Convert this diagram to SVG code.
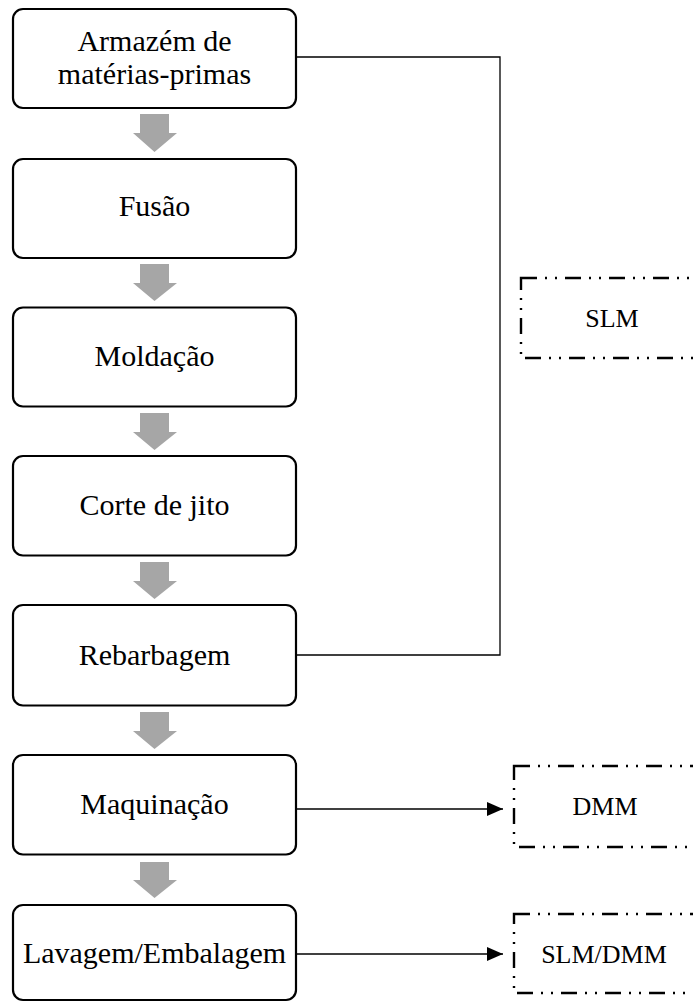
<svg xmlns="http://www.w3.org/2000/svg" width="693" height="1002" viewBox="0 0 693 1002">
<defs>
<style>
.box{fill:#fff;stroke:#000;stroke-width:2.2}
.t{font-family:"Liberation Serif","Times New Roman",serif;font-size:30px;fill:#000;text-anchor:middle}
.ts{font-family:"Liberation Serif","Times New Roman",serif;font-size:26px;fill:#000;text-anchor:middle}
.dbox{fill:none;stroke:#000;stroke-width:2.4;stroke-dasharray:16 8 2 8 2 8}
.blk{fill:#a6a6a6}
.ln{fill:none;stroke:#000;stroke-width:1.3}
</style>
<marker id="ah" markerWidth="16" markerHeight="14" refX="16" refY="7" orient="auto" markerUnits="userSpaceOnUse" viewBox="0 0 16 14">
<path d="M0,0 L16,7 L0,14 Z" fill="#000"/>
</marker>
</defs>
<rect width="693" height="1002" fill="#fff"/>
<g id="connectors">
<path class="blk" d="M140,114 H169 V133 H177 L154.5,152 L133,133 H140 Z"/>
<path class="blk" d="M140,264 H169 V283 H177 L154.5,301 L133,283 H140 Z"/>
<path class="blk" d="M140,413 H169 V432 H177 L154.5,450 L133,432 H140 Z"/>
<path class="blk" d="M140,562 H169 V581 H177 L154.5,599 L133,581 H140 Z"/>
<path class="blk" d="M140,712 H169 V731 H177 L154.5,749 L133,731 H140 Z"/>
<path class="blk" d="M140,862 H169 V880 H177 L154.5,898 L133,880 H140 Z"/>
<path class="ln" d="M297,57 H500 V655 H297"/>
<line class="ln" x1="297" y1="809" x2="503" y2="809" marker-end="url(#ah)"/>
<line class="ln" x1="297" y1="954" x2="503" y2="954" marker-end="url(#ah)"/>
</g>
<g id="n1"><rect class="box" x="13" y="9" width="283" height="99" rx="10"/><text class="t" x="154.5" y="51">Armazém de</text><text class="t" x="154.5" y="84">matérias-primas</text></g>
<g id="n2"><rect class="box" x="13" y="159" width="283" height="99" rx="10"/><text class="t" x="154.5" y="216">Fusão</text></g>
<g id="n3"><rect class="box" x="13" y="307.5" width="283" height="99" rx="10"/><text class="t" x="154.5" y="366">Moldação</text></g>
<g id="n4"><rect class="box" x="13" y="456" width="283" height="99.5" rx="10"/><text class="t" x="154.5" y="515">Corte de jito</text></g>
<g id="n5"><rect class="box" x="13" y="605" width="283" height="100.5" rx="10"/><text class="t" x="154.5" y="665">Rebarbagem</text></g>
<g id="n6"><rect class="box" x="13" y="755" width="283" height="99.5" rx="10"/><text class="t" x="154.5" y="814">Maquinação</text></g>
<g id="n7"><rect class="box" x="13" y="905" width="283" height="95" rx="10"/><text class="t" x="154.5" y="963">Lavagem/Embalagem</text></g>
<g id="slm1"><rect class="dbox" x="521" y="278" width="190" height="80"/><text class="ts" x="612" y="327">SLM</text></g>
<g id="dmm"><rect class="dbox" x="514" y="766" width="190" height="81"/><text class="ts" x="605" y="815">DMM</text></g>
<g id="slmdmm"><rect class="dbox" x="514" y="914" width="190" height="79"/><text class="ts" x="604" y="963">SLM/DMM</text></g>
</svg>
